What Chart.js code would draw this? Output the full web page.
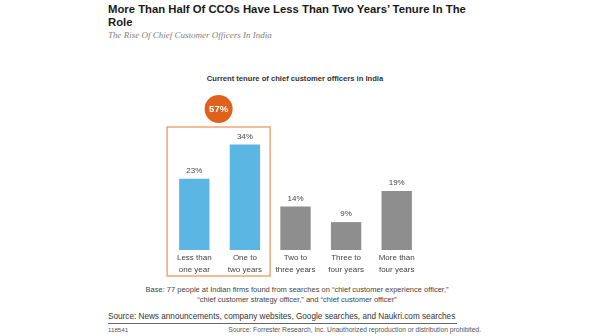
<!DOCTYPE html>
<html>
<head>
<meta charset="utf-8">
<script src="https://cdn.jsdelivr.net/npm/chart.js@4/dist/chart.umd.min.js"></script>
<style>
  html, body { margin: 0; padding: 0; background: #fff; }
  body { width: 596px; height: 336px; position: relative; overflow: hidden; font-family: "Liberation Sans", Arial, sans-serif; }
  .abs { position: absolute; white-space: nowrap; }
  #title { left: 108px; top: 3px; width: 380px; white-space: normal; font-weight: bold; font-size: 11.3px; line-height: 12.5px; color: #1a1a1a; }
  #subtitle { left: 108px; top: 30px; font-family: "Liberation Serif", serif; font-style: italic; font-size: 9px; color: #808080; }
  #charttitle { left: 0; width: 590px; top: 74px; text-align: center; font-weight: bold; font-size: 7.6px; color: #333; }
  #base { left: 0; width: 594px; top: 285px; text-align: center; font-size: 7.5px; line-height: 10px; color: #444; white-space: normal; }
  #source { left: 108px; top: 312px; font-size: 8.2px; color: #333; }
  #rule { left: 108px; top: 323px; width: 349px; height: 1px; background: #666; }
  #id { left: 108px; top: 326px; font-size: 6.2px; color: #555; }
  #copy { right: 115px; top: 326px; font-size: 6.7px; color: #555; }
  canvas { position: absolute; left: 0; top: 0; }
</style>
</head>
<body>
<div id="title" class="abs">More Than Half Of CCOs Have Less Than Two Years’ Tenure In The Role</div>
<div id="subtitle" class="abs">The Rise Of Chief Customer Officers In India</div>
<div id="charttitle" class="abs">Current tenure of chief customer officers in India</div>
<div id="base" class="abs">Base: 77 people at Indian firms found from searches on “chief customer experience officer,”<br>“chief customer strategy officer,” and “chief customer officer”</div>
<div id="source" class="abs">Source: News announcements, company websites, Google searches, and Naukri.com searches</div>
<div id="rule" class="abs"></div>
<div id="id" class="abs">118541</div>
<div id="copy" class="abs">Source: Forrester Research, Inc. Unauthorized reproduction or distribution prohibited.</div>
<canvas id="chart" width="596" height="336"></canvas>
<script>
const categories = [
    ['Less than', 'one year'],
    ['One to', 'two years'],
    ['Two to', 'three years'],
    ['Three to', 'four years'],
    ['More than', 'four years']
];
const tenure = [23, 34, 14, 9, 19];
const highlighted = [0, 1]; // bars inside the orange box

const blue = '#5cb6e4';
const grey = '#8e8e8e';
const orange = '#e0611c';

// labels on top of the bars, plus the orange box and the 57% circle
const annotate = {
    id: 'annotate',
    afterDatasetsDraw(chart) {
        const ctx = chart.ctx;
        const meta = chart.getDatasetMeta(0);
        const area = chart.chartArea;

        ctx.save();
        ctx.fillStyle = '#444';
        ctx.font = '8px "Liberation Sans", Arial, sans-serif';
        ctx.textAlign = 'center';
        ctx.textBaseline = 'bottom';
        meta.data.forEach((bar, i) => {
            ctx.fillText(tenure[i] + '%', bar.x, bar.y - 4);
        });

        const first = meta.data[highlighted[0]];
        const last = meta.data[highlighted[highlighted.length - 1]];
        const left = first.x - first.width / 2 - 12;
        const right = last.x + last.width / 2 + 10;
        ctx.strokeStyle = '#f2a575';
        ctx.lineWidth = 1.5;
        ctx.strokeRect(left, area.top + 1, right - left, area.bottom - area.top + 25);

        const total = highlighted.reduce((s, i) => s + tenure[i], 0);
        const cx = (left + right) / 2;
        ctx.fillStyle = orange;
        ctx.beginPath();
        ctx.arc(cx, area.top - 17, 14, 0, Math.PI * 2);
        ctx.fill();
        ctx.fillStyle = '#fff';
        ctx.font = 'bold 9.5px "Liberation Sans", Arial, sans-serif';
        ctx.textBaseline = 'middle';
        ctx.fillText(total + '%', cx, area.top - 16.5);
        ctx.restore();
    }
};

new Chart(document.getElementById('chart'), {
    type: 'bar',
    data: {
        labels: categories,
        datasets: [{
            data: tenure,
            backgroundColor: tenure.map((v, i) => highlighted.includes(i) ? blue : grey),
            barPercentage: 0.6,
            categoryPercentage: 1.0
        }]
    },
    options: {
        responsive: false,
        animation: false,
        layout: { padding: { left: 169, right: 174, top: 126, bottom: 56 } },
        plugins: { legend: { display: false }, tooltip: { enabled: false } },
        scales: {
            x: {
                grid: { display: false, drawTicks: false },
                border: { display: false },
                ticks: {
                    color: '#444',
                    padding: 2,
                    maxRotation: 0,
                    font: { family: '"Liberation Sans", Arial, sans-serif', size: 8, lineHeight: 1.5 }
                },
                afterFit(axis) { axis.height = 30; }
            },
            y: { display: false, min: 0, max: 40 }
        }
    },
    plugins: [annotate]
});
</script>
</body>
</html>
